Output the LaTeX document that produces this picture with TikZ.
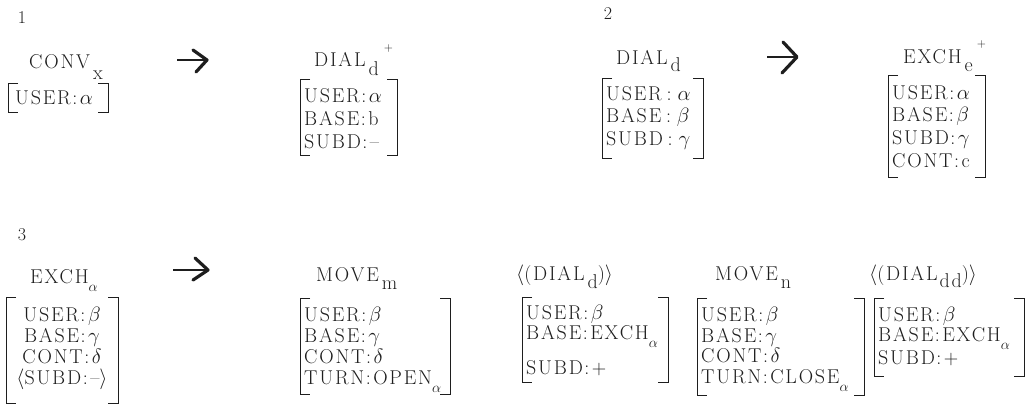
\documentclass[tikz,border=0pt]{standalone}
\usepackage{fontspec}
\usetikzlibrary{calc}
\newfontfamily\tw{Latin Modern Roman}[LetterSpace=9]
\definecolor{ink}{HTML}{1E1E1E}
% lowered subscript and raised superscript set beside a title
\newcommand\lowsub[2][10pt]{\raisebox{-#1}{#2}}
\newcommand\highsup[2][15pt]{\raisebox{#1}{\fontsize{12}{12}\selectfont #2}}
\newcommand\gsub[1]{\raisebox{-8pt}{\fontsize{15}{15}\selectfont$#1$}}
% feature separator and Greek value
\newcommand\cl{\kern1.5pt:\kern2.5pt}
\newcommand\gk[1]{{\fontsize{21}{21}\selectfont$#1$}}
\begin{document}
\begin{tikzpicture}[x=1pt,y=-1pt,
  every node/.style={inner sep=0pt, text=ink},
  num/.style={font=\tw\fontsize{18}{18}\selectfont},
  ttl/.style={anchor=base west, font=\tw\fontsize{20}{21}\selectfont},
  rows/.style={anchor=north west, align=left, font=\tw\fontsize{20}{#1}\selectfont},
  rows/.default=23,
  crows/.style={anchor=north, align=center, font=\tw\fontsize{20}{#1}\selectfont},
  brk/.style={draw=ink, line width=1pt},
  shaft/.style={draw=ink, line width=1.2pt},
  chev/.style={draw=ink, line width=3.2pt, line cap=round, line join=round}]
\useasboundingbox (0,0) rectangle (1026,405);

% bracket pair around a feature matrix: #1 name, (#2,#3) top-left, (#4,#5) bottom-right
\newcommand\fbrk[5]{%
  \coordinate (#1tl) at (#2,#3);
  \coordinate (#1br) at (#4,#5);
  \draw[brk] ($(#1tl)+(10,0)$) -- (#1tl) -- (#1tl |- #1br) -- ++(10,0);
  \draw[brk] ($(#1tl -| #1br)+(-10,0)$) -- (#1tl -| #1br) -- (#1br) -- ++(-10,0);}

% panel numbers
\node[num] (n1) at (22,18) {1};
\node[num] (n2) at (608,14) {2};
\node[num] (n3) at (22,235) {3};

% ---- panel 1 ----
\node[ttl] (t1) at (29,68) {CONV\hspace{3pt}\lowsub[11pt]{x}};
\fbrk{b1}{8}{83}{108}{112}
\node[rows] (r1) at (15,90) {USER\cl\gk\alpha};

\node[ttl] (t2) at (314,66) {DIAL\hspace{3pt}\lowsub[9pt]{d}\hspace{5pt}\highsup{+}};
\fbrk{b2}{300}{79}{397}{155}
\node[rows] (r2) at (304,88) {USER\cl\gk\alpha\\BASE\cl b\\SUBD\cl –};

% ---- panel 2 ----
\node[ttl] (t3) at (616,64) {DIAL\hspace{3pt}\lowsub[7pt]{d}};
\fbrk{b3}{602}{78}{703}{158}
\node[rows=22.5] (r3) at (606,86) {USER\,\cl\,\gk\alpha\\BASE\,\cl\,\gk\beta\\SUBD\,\cl\,\gk\gamma};

\node[ttl] (t4) at (903,63) {EXCH\hspace{3pt}\lowsub[8pt]{e}\hspace{4pt}\highsup[16pt]{+}};
\fbrk{b4}{888}{75}{985}{177}
\node[rows=22.7] (r4) at (892,85) {USER\cl\gk\alpha\\BASE\cl\gk\beta\\SUBD\cl\gk\gamma\\CONT\cl c};

% ---- panel 3 ----
\node[ttl] (t5) at (30,283) {EXCH\gsub{\alpha}};
\fbrk{b5}{6}{297}{118}{403}
\node[crows=21] (r5) at (62,307) {USER\cl\gk\beta\\BASE\cl\gk\gamma\\CONT\cl\gk\delta\\$\langle$SUBD\cl –$\rangle$};

\node[ttl] (t6) at (316,281) {MOVE\hspace{3pt}\lowsub[8pt]{m}};
\fbrk{b6}{300}{298}{450}{394}
\node[rows=21] (r6) at (304,307) {USER\cl\gk\beta\\BASE\cl\gk\gamma\\CONT\cl\gk\delta\\TURN\cl OPEN\gsub{\alpha}};

\node[ttl] (t7) at (516,280) {$\langle$(DIAL\hspace{3pt}\lowsub[8pt]{d})$\rangle$};
\fbrk{b7}{522}{297}{668}{382}
\node[rows=20] (r7) at (526,305) {USER\cl\gk\beta\\BASE\cl EXCH\gsub{\alpha}\\[12pt]SUBD\cl +};

\node[ttl] (t8) at (715,280) {MOVE\hspace{3pt}\lowsub[8pt]{n}};
\fbrk{b8}{697}{298}{864}{395}
\node[rows=20.5] (r8) at (701,307) {USER\cl\gk\beta\\BASE\cl\gk\gamma\\CONT\cl\gk\delta\\TURN\cl CLOSE\gsub{\alpha}};

\node[ttl] (t9) at (869,280) {$\langle$(DIAL\hspace{2pt}\lowsub[7pt]{dd})$\rangle$};
\fbrk{b9}{874}{298}{1024}{376}
\node[rows=20] (r9) at (878,307) {USER\cl\gk\beta\\BASE\cl EXCH\gsub{\alpha}\\SUBD\cl +};

% ---- transition arrows ----
\coordinate (a1s) at (177,60);  \coordinate (a1e) at (207,60);
\coordinate (a2s) at (767,57);  \coordinate (a2e) at (797,57);
\coordinate (a3s) at (173,270); \coordinate (a3e) at (208,270);
\draw[shaft] (a1s) -- (a1e);
\draw[chev] ($(a1e)+(-14,-10)$) -- (a1e) -- ($(a1e)+(-11,12)$);
\draw[shaft] (a2s) -- (a2e);
\draw[chev] ($(a2e)+(-14,-15)$) -- (a2e) -- ($(a2e)+(-15,16)$);
\draw[shaft] (a3s) -- (a3e);
\draw[chev] ($(a3e)+(-13,-12)$) -- (a3e) -- ($(a3e)+(-15,10)$);
\end{tikzpicture}
\end{document}
